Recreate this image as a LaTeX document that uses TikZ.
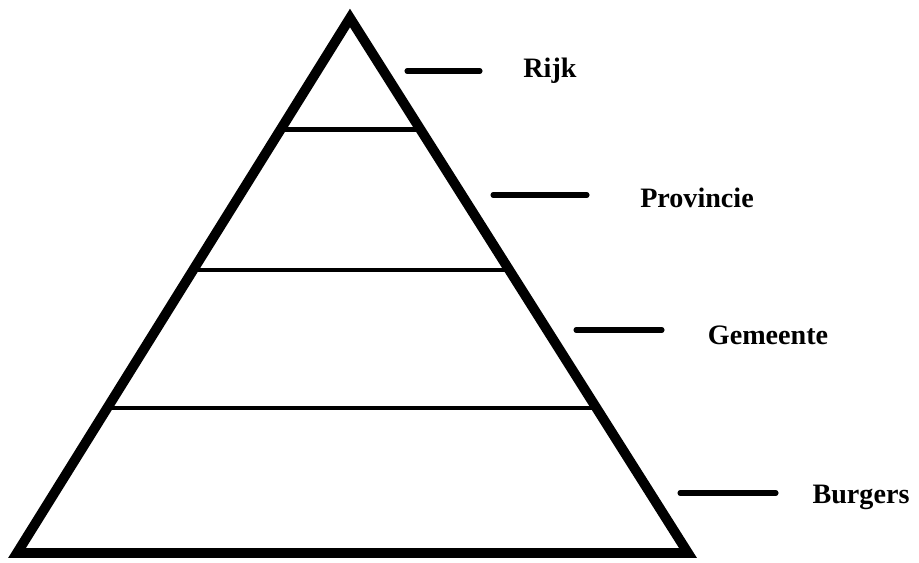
\documentclass[tikz,border=0pt]{standalone}
\usepackage{fontspec}
\setmainfont{Liberation Serif}
\usepackage{tikz}
\usetikzlibrary{positioning,calc}

\begin{document}
\begin{tikzpicture}[
  x=0.025cm, y=-0.025cm,
  side/.style={line width=7pt, line join=miter},
  layer/.style={line width=3.4pt},
  tick/.style={line width=3.6pt, line cap=round},
  lbl/.style={font=\bfseries\fontsize{20}{23}\selectfont, inner sep=0pt}
]
\useasboundingbox (0,0) rectangle (919,563);
% corners of the pyramid
\coordinate (top) at (350,18);
\coordinate (bl) at (17,553);
\coordinate (br) at (688,553);
% layer borders
\draw[layer] ($(top)!0.209!(bl)$) -- ($(top)!0.209!(br)$);
\draw[layer] ($(top)!0.471!(bl)$) -- ($(top)!0.471!(br)$);
\draw[layer] ($(top)!0.729!(bl)$) -- ($(top)!0.729!(br)$);
\draw[side] (top) -- (bl) -- (br) -- cycle;
% labels
\node[lbl] (rijk) at (550,71) {Rijk};
\node[lbl] (prov) at (697,198) {Provincie};
\node[lbl] (gem) at (768,335) {Gemeente};
\node[lbl] (burg) at (861,497) {Burgers};
\coordinate (t1) at (407,71);
\coordinate (t2) at (493,195);
\coordinate (t3) at (576,330);
\coordinate (t4) at (680,493);
\draw[tick] (t1) -- ++(73,0);
\draw[tick] (t2) -- ++(94,0);
\draw[tick] (t3) -- ++(86,0);
\draw[tick] (t4) -- ++(96,0);
\end{tikzpicture}
\end{document}
